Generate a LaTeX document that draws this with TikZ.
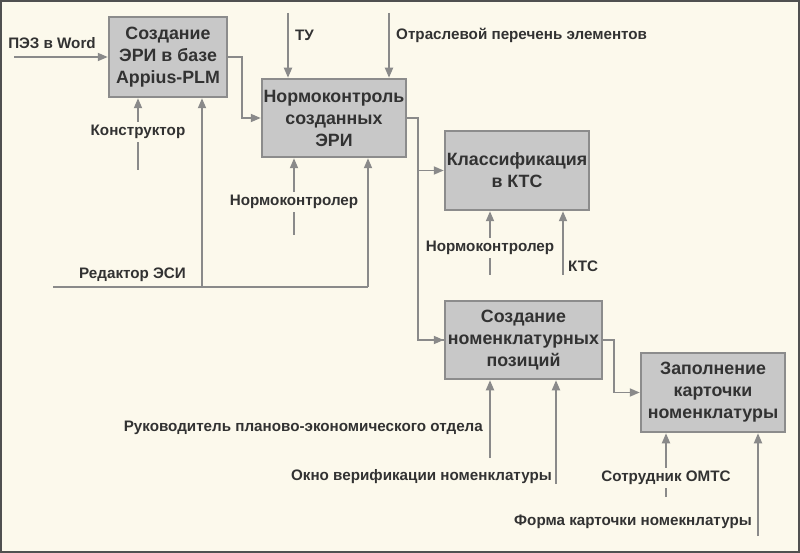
\documentclass[tikz,border=0pt]{standalone}
\usepackage{fontspec}
\setmainfont{Liberation Sans}
\usetikzlibrary{arrows.meta}
\definecolor{bg}{RGB}{252,249,236}
\definecolor{boxfill}{RGB}{200,200,200}
\definecolor{boxline}{RGB}{140,140,140}
\definecolor{arrcol}{RGB}{138,138,138}
\definecolor{txt}{RGB}{50,50,50}
\definecolor{frame}{RGB}{80,80,80}
\tikzset{
  box/.style={draw=boxline, line width=2.5pt, fill=boxfill, inner sep=0pt, align=center,
    text=txt, font=\fontsize{17.8}{22}\selectfont\bfseries},
  lbl/.style={text=txt, font=\fontsize{15.2}{17}\selectfont\bfseries, inner sep=1pt},
  gaplbl/.style={lbl, fill=bg, inner sep=3pt},
  arr/.style={draw=arrcol, line width=1.8pt, -{Triangle[length=10pt,width=8pt]}},
  ln/.style={draw=arrcol, line width=1.8pt},
}
\begin{document}
\begin{tikzpicture}[x=1pt,y=-1pt]
\fill[bg] (0,0) rectangle (800,553);
\draw[frame, line width=2pt] (1,1) rectangle (799,552);
\useasboundingbox (0,0) rectangle (800,553);

% boxes
\node[box, minimum width=118pt, minimum height=80pt] (b1) at (168,57) {Создание\\ЭРИ в базе\\Appius-PLM};
\node[box, minimum width=144pt, minimum height=78pt] (b2) at (334,118) {Нормоконтроль\\созданных\\ЭРИ};
\node[box, minimum width=144pt, minimum height=79pt] (b3) at (517,170.5) {Классификация\\в КТС};
\node[box, minimum width=157pt, minimum height=78pt] (b4) at (523.5,340) {Создание\\номенклатурных\\позиций};
\node[box, minimum width=144pt, minimum height=79pt] (b5) at (713,392.5) {Заполнение\\карточки\\номенклатуры};

% free ends
\coordinate (pez) at (14,57);
\coordinate (konS) at (138,170);
\coordinate (esiS) at (53,287);
\coordinate (esiA) at (202,287);
\coordinate (esiB) at (368,287);
\coordinate (tuS) at (288,13);
\coordinate (otrS) at (389,13);
\coordinate (nk1S) at (294,235);
\coordinate (nk2S) at (490,275);
\coordinate (ktsS) at (563,275);
\coordinate (rukS) at (490,458);
\coordinate (oknS) at (556,484);
\coordinate (sotS) at (666,497);
\coordinate (forS) at (758,536);
\coordinate (j1) at (242,57);
\coordinate (j2) at (418,118);
\coordinate (j3) at (614,340);

% connectors
\draw[arr] (pez) -- (b1.west);
\draw[arr] (b1.east) -- (j1) |- (b2.west);
\draw[ln] (b2.east) -- (j2) |- (b4.west);
\draw[arr] (j2 |- b3.west) -- (b3.west);
\draw[arr] (j2 |- b4.west) -- (b4.west);
\draw[arr] (b4.east) -- (j3) |- (b5.west);

\draw[arr] (konS) -- (konS |- b1.south);
\draw[ln] (esiS) -- (esiB);
\draw[arr] (esiA) -- (esiA |- b1.south);
\draw[arr] (esiB) -- (esiB |- b2.south);
\draw[arr] (tuS) -- (tuS |- b2.north);
\draw[arr] (otrS) -- (otrS |- b2.north);
\draw[arr] (nk1S) -- (nk1S |- b2.south);
\draw[arr] (nk2S) -- (nk2S |- b3.south);
\draw[arr] (ktsS) -- (ktsS |- b3.south);
\draw[arr] (rukS) -- (rukS |- b4.south);
\draw[arr] (oknS) -- (oknS |- b4.south);
\draw[arr] (sotS) -- (sotS |- b5.south);
\draw[arr] (forS) -- (forS |- b5.south);

% labels
\node[lbl] (lpez) at (52,43) {ПЭЗ в Word};
\node[gaplbl] (lkon) at (138,132) {Конструктор};
\node[lbl, anchor=west] (lesi) at (78,275) {Редактор ЭСИ};
\node[lbl, anchor=west] (ltu) at (294,35) {ТУ};
\node[lbl, anchor=west] (lotr) at (395,35) {Отраслевой перечень элементов};
\node[gaplbl] (lnk1) at (294,202) {Нормоконтролер};
\node[gaplbl] (lnk2) at (490,248) {Нормоконтролер};
\node[lbl, anchor=west] (lkts) at (567,266) {КТС};
\node[lbl, anchor=east] (lruk) at (484,428) {Руководитель планово-экономического отдела};
\node[lbl, anchor=east] (lokn) at (553,477) {Окно верификации номенклатуры};
\node[gaplbl] (lsot) at (666,478) {Сотрудник ОМТС};
\node[lbl, anchor=east] (lfor) at (753,522) {Форма карточки номекнлатуры};
\end{tikzpicture}
\end{document}
